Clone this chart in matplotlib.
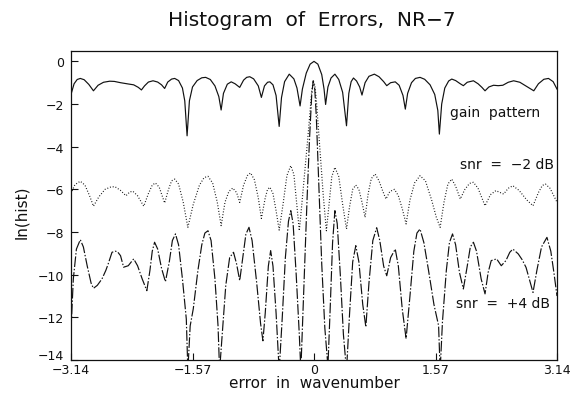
import matplotlib
matplotlib.use("Agg")
import matplotlib.pyplot as plt
from matplotlib.transforms import ScaledTranslation

plt.rcParams['font.family'] = ['DejaVu Sans']

# ---- data ----
gain_x = [-3.14, -3.10, -3.06, -3.02, -2.97, -2.91, -2.85, -2.79, -2.72, -2.64, -2.58, -2.50,
          -2.40, -2.33, -2.27, -2.23, -2.19, -2.14, -2.08, -2.02, -1.97, -1.93, -1.89, -1.84,
          -1.80, -1.75, -1.70, -1.67, -1.64, -1.61, -1.57, -1.51, -1.45, -1.40, -1.34, -1.28,
          -1.23, -1.20, -1.17, -1.12, -1.07, -1.02, -0.96, -0.91, -0.87, -0.83, -0.78, -0.72,
          -0.68, -0.64, -0.60, -0.57, -0.53, -0.49, -0.45, -0.42, -0.38, -0.32, -0.26, -0.22,
          -0.18, -0.15, -0.10, -0.05, 0.00, 0.05, 0.10, 0.13, 0.15, 0.18, 0.22, 0.27,
          0.32, 0.37, 0.42, 0.45, 0.48, 0.51, 0.55, 0.59, 0.62, 0.66, 0.71, 0.78,
          0.84, 0.90, 0.94, 0.99, 1.05, 1.10, 1.15, 1.18, 1.21, 1.26, 1.31, 1.37,
          1.43, 1.50, 1.56, 1.60, 1.62, 1.65, 1.69, 1.74, 1.78, 1.83, 1.89, 1.93,
          1.98, 2.06, 2.12, 2.17, 2.21, 2.26, 2.32, 2.38, 2.44, 2.51, 2.58, 2.66,
          2.75, 2.84, 2.90, 2.97, 3.03, 3.09, 3.14]
gain_y = [-1.55, -1.05, -0.85, -0.80, -0.86, -1.08, -1.38, -1.12, -0.98, -0.93, -0.94, -1.00,
          -1.06, -1.10, -1.22, -1.34, -1.15, -0.97, -0.91, -0.97, -1.10, -1.27, -0.97, -0.83,
          -0.80, -0.90, -1.25, -1.85, -3.49, -1.85, -1.20, -0.90, -0.77, -0.75, -0.85, -1.15,
          -1.65, -2.28, -1.50, -1.07, -0.96, -1.05, -1.22, -0.88, -0.75, -0.72, -0.82, -1.15,
          -1.69, -1.15, -0.98, -0.96, -1.10, -1.60, -3.05, -1.70, -0.95, -0.60, -0.82, -1.25,
          -2.09, -1.30, -0.55, -0.13, 0.00, -0.13, -0.62, -1.30, -2.02, -1.20, -0.78, -0.60,
          -0.85, -1.45, -3.02, -1.50, -0.95, -0.78, -0.92, -1.20, -1.58, -1.00, -0.70, -0.60,
          -0.72, -0.95, -1.14, -1.00, -0.96, -1.12, -1.60, -2.24, -1.50, -1.00, -0.80, -0.75,
          -0.84, -1.10, -1.55, -2.30, -3.41, -2.00, -1.25, -0.92, -0.83, -0.90, -1.05, -1.14,
          -0.98, -0.91, -1.05, -1.22, -1.38, -1.20, -1.12, -1.14, -1.12, -0.98, -0.91, -0.98,
          -1.18, -1.38, -1.05, -0.84, -0.80, -0.95, -1.30]

snr_m2_x = [-3.14, -3.09, -3.02, -2.96, -2.90, -2.85, -2.78, -2.70, -2.62, -2.57, -2.50, -2.43,
            -2.38, -2.34, -2.28, -2.20, -2.14, -2.09, -2.05, -2.00, -1.93, -1.88, -1.84, -1.80,
            -1.75, -1.69, -1.63, -1.56, -1.48, -1.42, -1.37, -1.31, -1.25, -1.20, -1.15, -1.10,
            -1.05, -1.00, -0.96, -0.91, -0.86, -0.82, -0.77, -0.72, -0.68, -0.63, -0.60, -0.57,
            -0.53, -0.49, -0.45, -0.40, -0.35, -0.30, -0.26, -0.22, -0.19, -0.16, -0.12, -0.08,
            -0.05, -0.03, -0.01, 0.01, 0.03, 0.06, 0.09, 0.12, 0.16, 0.20, 0.23, 0.27,
            0.32, 0.37, 0.42, 0.46, 0.50, 0.54, 0.58, 0.62, 0.66, 0.70, 0.74, 0.79,
            0.84, 0.89, 0.93, 0.98, 1.04, 1.09, 1.14, 1.19, 1.24, 1.30, 1.37, 1.44,
            1.52, 1.58, 1.63, 1.68, 1.73, 1.78, 1.83, 1.89, 1.95, 2.01, 2.06, 2.12,
            2.21, 2.28, 2.35, 2.45, 2.51, 2.57, 2.65, 2.75, 2.83, 2.90, 2.95, 2.99,
            3.05, 3.14]
snr_m2_y = [-6.20, -5.78, -5.62, -5.80, -6.30, -6.79, -6.35, -6.00, -5.88, -5.88, -6.05, -6.30,
            -6.12, -6.09, -6.30, -6.79, -6.20, -5.80, -5.70, -5.90, -6.64, -6.00, -5.60, -5.52,
            -5.75, -6.60, -7.78, -6.70, -5.80, -5.45, -5.39, -5.70, -6.60, -7.70, -6.60, -6.10,
            -5.94, -6.15, -6.61, -5.80, -5.35, -5.23, -5.55, -6.40, -7.36, -6.40, -6.00, -5.90,
            -6.20, -7.00, -7.91, -6.70, -5.35, -4.89, -5.30, -6.80, -7.94, -6.80, -5.20, -3.60,
            -2.30, -1.40, -0.91, -1.10, -1.80, -3.30, -4.80, -6.30, -7.94, -6.50, -5.40, -4.97,
            -5.40, -6.70, -7.86, -6.80, -6.00, -5.80, -6.00, -6.60, -7.31, -6.20, -5.50, -5.28,
            -5.60, -6.10, -6.45, -6.10, -6.00, -6.30, -6.90, -7.62, -6.50, -5.70, -5.36, -5.60,
            -6.50, -7.30, -7.78, -6.60, -5.75, -5.52, -5.85, -6.45, -6.00, -5.72, -5.67, -5.95,
            -6.77, -6.25, -6.06, -6.22, -5.95, -5.83, -6.05, -6.50, -6.77, -6.15, -5.82, -5.75,
            -5.95, -6.60]

snr_p4_x = [-3.14, -3.11, -3.07, -3.02, -2.98, -2.93, -2.88, -2.85, -2.80, -2.74, -2.69, -2.66,
            -2.61, -2.57, -2.54, -2.50, -2.46, -2.40, -2.33, -2.28, -2.22, -2.16, -2.12, -2.09,
            -2.06, -2.02, -1.97, -1.92, -1.87, -1.83, -1.79, -1.75, -1.70, -1.65, -1.63, -1.60,
            -1.56, -1.50, -1.45, -1.41, -1.37, -1.33, -1.28, -1.24, -1.22, -1.19, -1.14, -1.09,
            -1.04, -1.00, -0.96, -0.92, -0.88, -0.84, -0.80, -0.74, -0.69, -0.66, -0.63, -0.59,
            -0.56, -0.53, -0.49, -0.45, -0.41, -0.37, -0.33, -0.30, -0.27, -0.23, -0.19, -0.17,
            -0.13, -0.09, -0.06, -0.03, -0.01, 0.01, 0.03, 0.06, 0.10, 0.14, 0.18, 0.21,
            0.24, 0.27, 0.30, 0.34, 0.38, 0.42, 0.46, 0.50, 0.54, 0.58, 0.63, 0.67,
            0.71, 0.76, 0.81, 0.85, 0.90, 0.94, 0.99, 1.05, 1.09, 1.14, 1.19, 1.24,
            1.29, 1.33, 1.37, 1.42, 1.48, 1.55, 1.61, 1.63, 1.66, 1.71, 1.75, 1.79,
            1.83, 1.88, 1.93, 1.98, 2.02, 2.06, 2.10, 2.16, 2.21, 2.25, 2.29, 2.36,
            2.42, 2.48, 2.53, 2.57, 2.64, 2.69, 2.74, 2.79, 2.83, 2.88, 2.94, 3.01,
            3.06, 3.10, 3.14]
snr_p4_y = [-12.60, -10.20, -8.80, -8.36, -8.70, -9.60, -10.40, -10.64, -10.50, -10.20, -9.80, -9.50,
            -8.95, -8.90, -8.92, -9.11, -9.65, -9.58, -9.26, -9.58, -10.20, -10.75, -9.80, -8.90,
            -8.48, -8.80, -9.70, -10.33, -9.40, -8.40, -8.09, -8.60, -10.20, -12.08, -14.50, -12.40,
            -11.60, -9.80, -8.60, -8.05, -7.94, -8.40, -10.20, -12.40, -14.50, -13.00, -10.50, -9.20,
            -8.95, -9.50, -10.28, -9.20, -8.10, -7.78, -8.40, -10.40, -12.30, -13.10, -11.80, -9.60,
            -8.87, -9.60, -11.80, -14.50, -12.00, -9.20, -7.50, -7.00, -7.60, -10.00, -12.80, -14.50,
            -10.50, -6.50, -3.80, -1.60, -0.91, -1.30, -2.60, -5.50, -9.50, -12.50, -14.30, -11.50,
            -8.50, -7.00, -7.60, -10.00, -12.80, -14.50, -11.80, -9.40, -8.64, -9.40, -11.40, -12.45,
            -10.40, -8.40, -7.80, -8.40, -9.60, -10.05, -9.20, -8.80, -9.60, -11.60, -13.00, -11.00,
            -8.90, -8.05, -7.86, -8.50, -9.80, -11.40, -12.39, -14.50, -12.20, -9.80, -8.50, -8.09,
            -8.60, -9.90, -10.67, -9.60, -8.70, -8.48, -8.90, -10.20, -10.90, -9.90, -9.34, -9.26,
            -9.58, -9.34, -8.95, -8.80, -9.03, -9.30, -9.66, -10.30, -10.83, -9.80, -8.70, -8.25,
            -8.90, -9.90, -11.00]

xtick_vals = [-3.14, -1.57, 0, 1.57, 3.14]
xtick_labels = ["\u22123.14", "\u22121.57", "0", "1.57", "3.14"]
ytick_vals = [0, -2, -4, -6, -8, -10, -12, -14]
ytick_labels = ["0", "\u22122", "\u22124", "\u22126", "\u22128", "\u221210", "\u221212", "\u221214"]

title = "Histogram  of  Errors,  NR\u22127"
xlabel = "error  in  wavenumber"
ylabel = "ln(hist)"
lab_gain = "gain  pattern"
lab_m2 = "snr  =  \u22122 dB"
lab_p4 = "snr  =  +4 dB"

# ---- figure ----
W, H = 572, 402
fig = plt.figure(figsize=(W / 100, H / 100), dpi=100)
ax = fig.add_axes([71 / W, (H - 361) / H, (557 - 71) / W, (361 - 51.7) / H])

ink = "#111111"
ax.plot(gain_x, gain_y, color=ink, lw=0.85, solid_joinstyle='round')
ax.plot(snr_m2_x, snr_m2_y, color=ink, lw=0.85, linestyle=(0, (0.8, 1.6)))
ax.plot(snr_p4_x, snr_p4_y, color=ink, lw=0.85, linestyle=(0, (9, 1.6, 1.2, 1.6)))

ax.set_xlim(-3.14, 3.14)
ax.set_ylim(-14, 0.5)
ax.set_xticks(xtick_vals)
ax.set_xticklabels(xtick_labels)
ax.set_yticks(ytick_vals)
ax.set_yticklabels(ytick_labels)
ax.tick_params(axis='both', direction='in', length=5, width=0.8, labelsize=9, colors=ink)
ax.tick_params(axis='x', pad=2.5)
ax.tick_params(axis='y', pad=5)
for s in ax.spines.values():
    s.set_linewidth(0.9)
    s.set_color(ink)

# nudge the lowest y label up a little so it clears the first x label
lowest = ax.get_yticklabels()[-1]
lowest.set_transform(lowest.get_transform() + ScaledTranslation(0, 4 / 72, fig.dpi_scale_trans))

ax.text(1.76, -2.38, lab_gain, fontsize=10, ha='left', va='center', color=ink)
ax.text(1.89, -4.81, lab_m2, fontsize=10, ha='left', va='center', color=ink)
ax.text(1.84, -11.33, lab_p4, fontsize=10, ha='left', va='center', color=ink)

fig.text(312 / W, 1 - 20 / H, title, fontsize=14.5, ha='center', va='center', color=ink)
fig.text(314 / W, 1 - 384 / H, xlabel, fontsize=11, ha='center', va='center', color=ink)
fig.text(22 / W, 1 - 212 / H, ylabel, fontsize=11, ha='center', va='center', rotation=90, color=ink)

fig.savefig("out.png", dpi=100)
